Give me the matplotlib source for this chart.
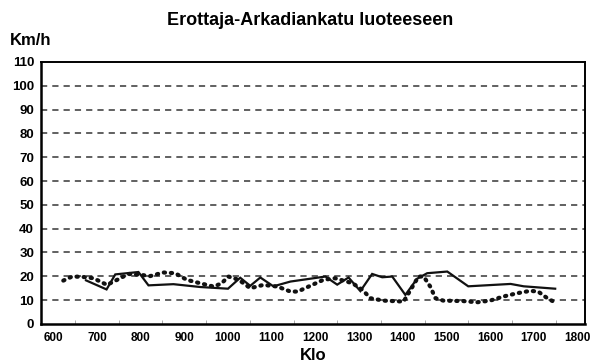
import matplotlib
matplotlib.use("Agg")
from matplotlib import pyplot as plt
from matplotlib.ticker import MultipleLocator
import numpy as np

plt.rcParams['font.family'] = ['Liberation Sans', 'DejaVu Sans']

# speed measurements, solid run
klo_a = [675, 722, 742, 795, 818, 875, 937, 1000, 1028, 1051, 1074, 1104, 1143, 1223,
         1250, 1276, 1303, 1330, 1353, 1376, 1406, 1433, 1456, 1502, 1550, 1647, 1677, 1749]
kmh_a = [18.3, 14.5, 20.8, 21.8, 16.2, 16.7, 15.5, 14.8, 19.4, 16.0, 19.5, 15.8, 17.8, 19.9,
         16.5, 19.5, 13.8, 21.0, 19.6, 19.9, 12.2, 19.0, 21.3, 22.0, 15.8, 16.8, 15.8, 14.8]

# speed measurements, dotted run
klo_b = [623, 643, 665, 692, 723, 746, 772, 800, 822, 852, 879, 906, 936, 967, 985, 1001,
         1025, 1051, 1081, 1113, 1143, 1160, 1181, 1218, 1245, 1285, 1308, 1326, 1356, 1402,
         1418, 1436, 1448, 1463, 1475, 1493, 1539, 1570, 1600, 1630, 1662, 1692, 1710, 1731, 1749]
kmh_b = [18.2, 19.9, 19.8, 19.2, 16.4, 18.5, 21.0, 20.6, 20.1, 21.6, 21.3, 18.5, 17.1, 15.7, 17.0, 19.9,
         18.5, 15.0, 16.4, 15.7, 13.6, 13.6, 15.4, 18.5, 19.2, 17.1, 14.3, 10.8, 9.8, 9.4,
         14.3, 19.9, 19.9, 15.7, 10.8, 9.8, 9.6, 9.1, 9.8, 11.5, 12.9, 13.9, 13.6, 10.8, 9.0]

x_ticks = list(range(600, 1801, 100))
y_ticks = list(range(0, 111, 10))

fig = plt.figure(figsize=(5.91, 3.64), dpi=100)
ax = fig.add_axes([0.0694, 0.11, 0.921, 0.72])

for yv in y_ticks[1:-1]:
    ax.axhline(yv, color="#606060", lw=1.4, linestyle=(0, (3.2, 2.6)), zorder=1)

ax.plot(klo_a, kmh_a, color="#111111", lw=1.6, solid_joinstyle="miter", zorder=3)
ax.plot(klo_b, kmh_b, color="#111111", lw=3.0, linestyle=(0, (0.3, 1.4)),
        dash_capstyle="round", zorder=3)

ax.set_xlim(572, 1818)
ax.set_ylim(0, 110)
ax.set_xticks(x_ticks)
ax.set_yticks(y_ticks)
ax.xaxis.set_minor_locator(MultipleLocator(50))
ax.tick_params(axis="x", which="major", length=0, pad=6, labelsize=8.5)
ax.tick_params(axis="x", which="minor", direction="in", length=3, color="#999999")
ax.tick_params(axis="y", length=0, pad=5, labelsize=9.5)
for lab in ax.get_xticklabels() + ax.get_yticklabels():
    lab.set_fontweight("bold")

for side in ["left", "bottom"]:
    ax.spines[side].set_linewidth(1.8)
for side in ["top", "right"]:
    ax.spines[side].set_linewidth(1.4)

fig.text(0.525, 0.945, "Erottaja-Arkadiankatu luoteeseen", ha="center", va="center",
         fontsize=13, fontweight="bold")
fig.text(0.017, 0.89, "Km/h", ha="left", va="center", fontsize=12, fontweight="bold")
ax.set_xlabel("Klo", fontsize=12, fontweight="bold", labelpad=3)

fig.savefig("out.png", dpi=100)
